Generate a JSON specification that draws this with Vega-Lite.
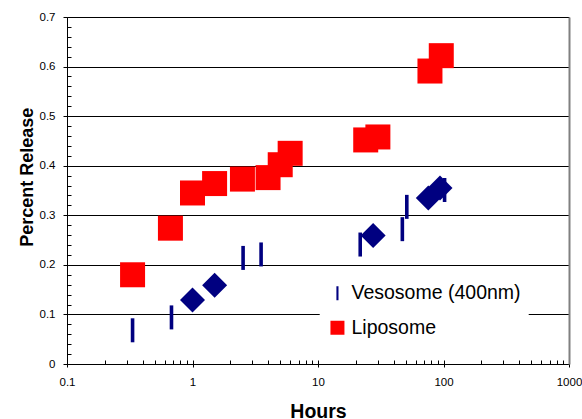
{
  "$schema": "https://vega.github.io/schema/vega-lite/v6.json",
  "width": 502,
  "height": 347,
  "autosize": {"type": "none"},
  "padding": {"left": 67, "top": 17, "right": 13, "bottom": 55},
  "background": "white",
  "config": {
    "view": {"stroke": null},
    "font": "Liberation Sans",
    "axis": {"labelFont": "Liberation Sans", "titleFont": "Liberation Sans", "labelColor": "#000000", "titleColor": "#000000", "tickColor": "#000000", "domainColor": "#000000"},
    "legend": {
      "orient": "none",
      "legendX": 252.7,
      "legendY": 258.5,
      "padding": 8,
      "fillColor": "white",
      "strokeColor": null,
      "labelFont": "Liberation Sans",
      "labelFontSize": 19.5,
      "labelColor": "#000000",
      "labelOffset": 4.3,
      "labelLimit": 300,
      "symbolSize": 196,
      "rowPadding": 13.5,
      "symbolStrokeWidth": 0
    }
  },
  "datasets": {
    "vesosome_bars": [
      {"hours": 0.333, "release": 0.068, "series": "Vesosome (400nm)"},
      {"hours": 0.68, "release": 0.094, "series": "Vesosome (400nm)"},
      {"hours": 2.53, "release": 0.214, "series": "Vesosome (400nm)"},
      {"hours": 3.52, "release": 0.221, "series": "Vesosome (400nm)"},
      {"hours": 21.7, "release": 0.241, "series": "Vesosome (400nm)"},
      {"hours": 47, "release": 0.272, "series": "Vesosome (400nm)"},
      {"hours": 51, "release": 0.317, "series": "Vesosome (400nm)"},
      {"hours": 102, "release": 0.351, "series": "Vesosome (400nm)"}
    ],
    "liposome": [
      {"hours": 0.333, "release": 0.18, "series": "Liposome"},
      {"hours": 0.667, "release": 0.274, "series": "Liposome"},
      {"hours": 1.0, "release": 0.345, "series": "Liposome"},
      {"hours": 1.5, "release": 0.364, "series": "Liposome"},
      {"hours": 2.5, "release": 0.373, "series": "Liposome"},
      {"hours": 4.0, "release": 0.376, "series": "Liposome"},
      {"hours": 5.0, "release": 0.402, "series": "Liposome"},
      {"hours": 6.0, "release": 0.425, "series": "Liposome"},
      {"hours": 24, "release": 0.452, "series": "Liposome"},
      {"hours": 30, "release": 0.458, "series": "Liposome"},
      {"hours": 78, "release": 0.591, "series": "Liposome"},
      {"hours": 96, "release": 0.622, "series": "Liposome"}
    ],
    "vesosome_diamonds": [
      {"hours": 1.0, "release": 0.129},
      {"hours": 1.5, "release": 0.159},
      {"hours": 27.5, "release": 0.259},
      {"hours": 75.7, "release": 0.335},
      {"hours": 93.8, "release": 0.355}
    ]
  },
  "layer": [
    {
      "data": {"name": "vesosome_bars"},
      "mark": {"type": "point", "filled": true, "size": 576, "opacity": 1},
      "encoding": {
        "x": {
          "field": "hours", "type": "quantitative",
          "scale": {"type": "log", "domain": [0.1, 1000], "nice": false},
          "axis": {
            "values": [0.1, 1, 10, 100, 1000],
            "format": "~g",
            "labelFlush": false,
            "labelOverlap": false,
            "labelFontSize": 11.5,
            "labelPadding": 9.5,
            "tickSize": 3,
            "grid": false,
            "title": "Hours",
            "titleFontSize": 19.5,
            "titleFontWeight": "bold",
            "titleBaseline": "alphabetic",
            "titleY": 53.5
          }
        },
        "y": {
          "field": "release", "type": "quantitative",
          "scale": {"domain": [0, 0.7], "nice": false},
          "axis": {
            "values": [0, 0.1, 0.2, 0.3, 0.4, 0.5, 0.6, 0.7],
            "format": "~g",
            "labelFontSize": 11.5,
            "labelPadding": 8,
            "tickSize": 4,
            "grid": true,
            "gridColor": "#000000",
            "gridWidth": 1,
            "gridOpacity": 1,
            "title": "Percent Release",
            "titleFontSize": 18,
            "titleFontWeight": "bold",
            "titleAngle": 270,
            "titleAlign": "center",
            "titleBaseline": "middle",
            "titleX": -40,
            "titleY": 159.7
          }
        },
        "color": {
          "field": "series", "type": "nominal",
          "scale": {"domain": ["Vesosome (400nm)", "Liposome"], "range": ["#000080", "#FF0000"]},
          "legend": {"title": null}
        },
        "shape": {
          "field": "series", "type": "nominal",
          "scale": {"domain": ["Vesosome (400nm)", "Liposome"], "range": ["M-0.15,-1H0.15V1H-0.15Z", "square"]},
          "legend": {"title": null}
        }
      }
    },
    {
      "data": {"name": "liposome"},
      "mark": {"type": "point", "filled": true, "size": 625, "opacity": 1},
      "encoding": {
        "x": {
          "field": "hours", "type": "quantitative",
          "axis": {
            "orient": "bottom",
            "values": [0.1,0.2,0.3,0.4,0.5,0.6,0.7,0.8,0.9,1,2,3,4,5,6,7,8,9,10,20,30,40,50,60,70,80,90,100,200,300,400,500,600,700,800,900,1000],
            "labels": false,
            "domain": false,
            "grid": false,
            "tickSize": -4,
            "title": null
          }
        },
        "y": {
          "field": "release", "type": "quantitative",
          "axis": {
            "orient": "left",
            "values": [0,0.02,0.04,0.06,0.08,0.1,0.12,0.14,0.16,0.18,0.2,0.22,0.24,0.26,0.28,0.3,0.32,0.34,0.36,0.38,0.4,0.42,0.44,0.46,0.48,0.5,0.52,0.54,0.56,0.58,0.6,0.62,0.64,0.66,0.68,0.7],
            "labels": false,
            "domain": false,
            "grid": false,
            "tickSize": -4,
            "title": null
          }
        },
        "color": {"field": "series", "type": "nominal", "legend": {"title": null}},
        "shape": {"field": "series", "type": "nominal", "legend": {"title": null}}
      }
    },
    {
      "data": {"name": "vesosome_diamonds"},
      "mark": {"type": "point", "filled": true, "shape": "diamond", "size": 625, "color": "#000080", "opacity": 1},
      "encoding": {
        "x": {"field": "hours", "type": "quantitative", "axis": null},
        "y": {
          "field": "release", "type": "quantitative",
          "axis": {
            "orient": "right",
            "ticks": false,
            "labels": false,
            "grid": false,
            "domainColor": "#808080",
            "domainWidth": 2,
            "title": null
          }
        }
      }
    }
  ],
  "resolve": {"axis": {"x": "independent", "y": "independent"}}
}
